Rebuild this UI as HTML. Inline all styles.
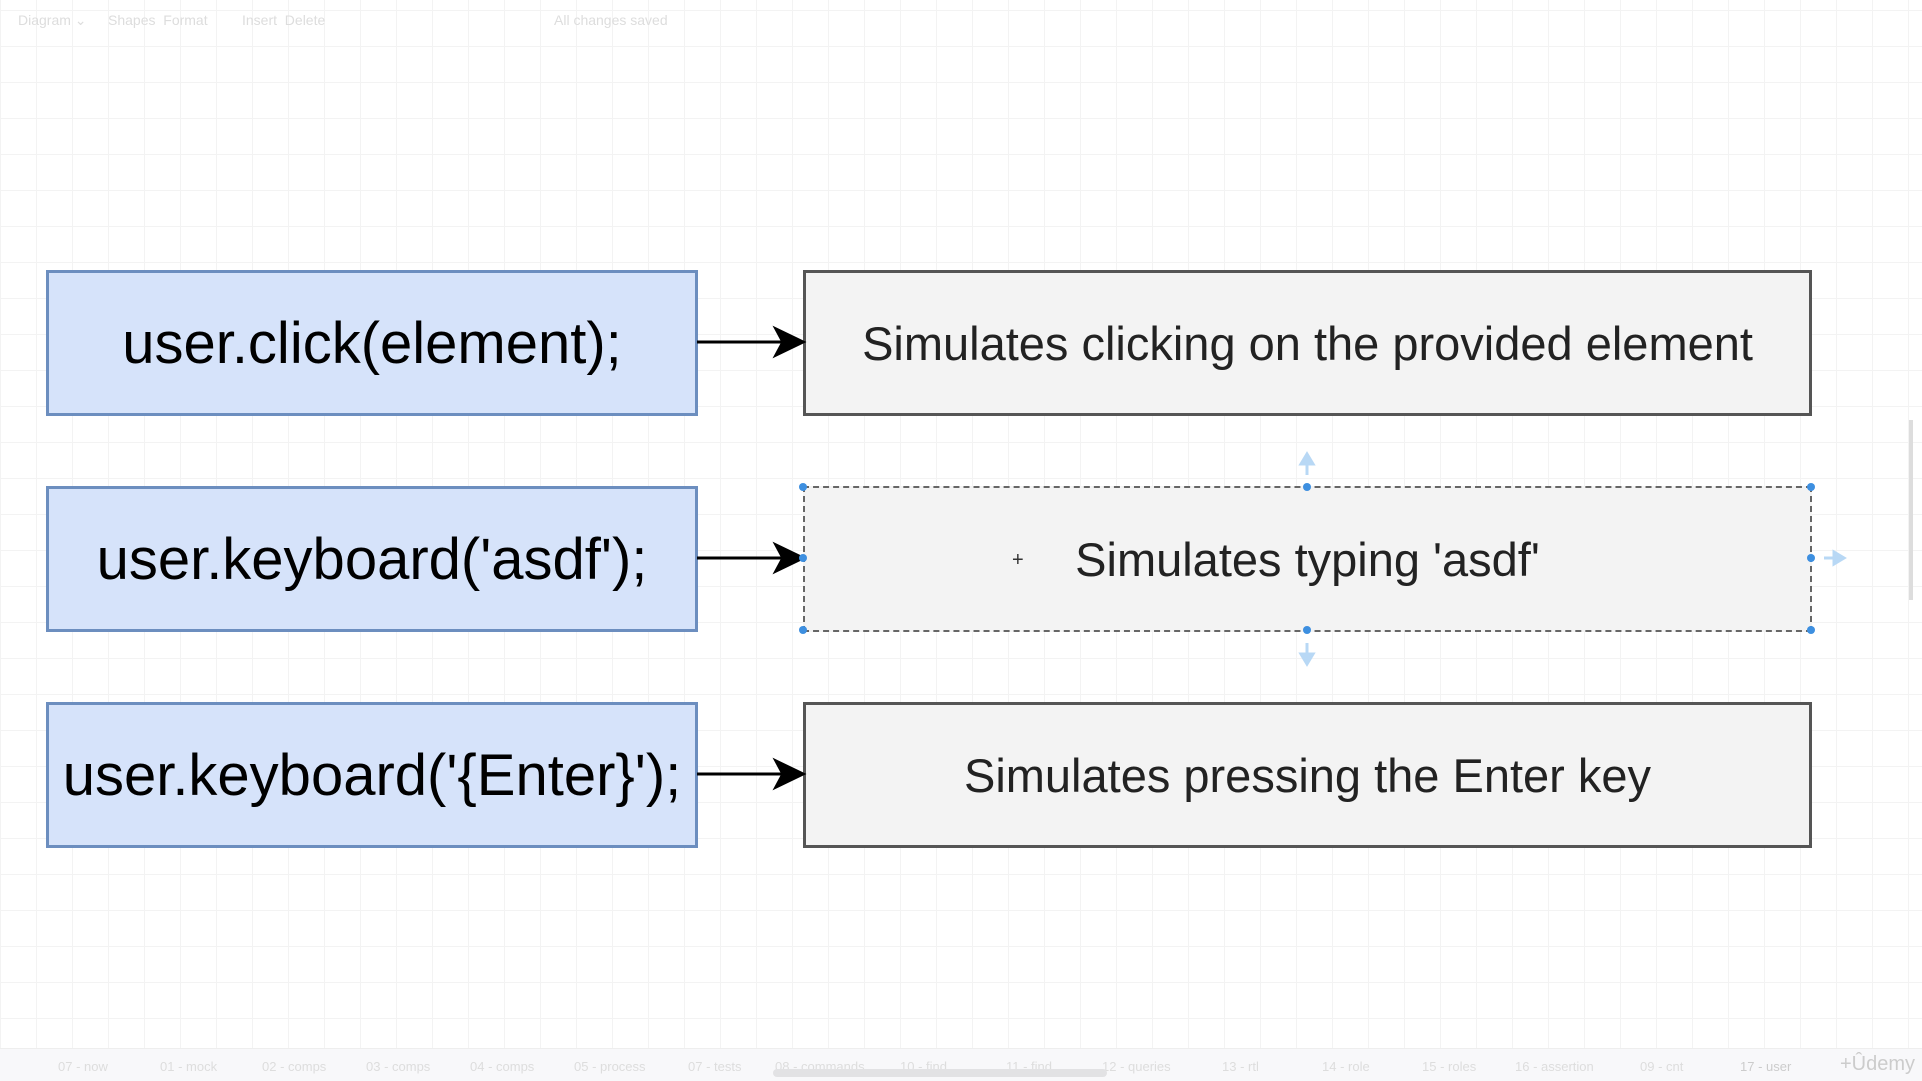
<!DOCTYPE html>
<html><head><style>
html,body{margin:0;padding:0;}
body{width:1922px;height:1080px;position:relative;overflow:hidden;background:#fff;font-family:"Liberation Sans",Arial,sans-serif;
background-image:linear-gradient(#f3f3f3 1px,transparent 1px),linear-gradient(90deg,#f3f3f3 1px,transparent 1px);background-size:36px 36px;background-position:0 10px;}
.l{position:absolute;left:46px;width:646px;height:140px;background:#d6e3fa;border:3px solid #6c8ebf;display:flex;align-items:center;justify-content:center;font-size:58px;color:#000;white-space:nowrap;}
.r{position:absolute;left:803px;width:1003px;height:140px;background:#f3f3f3;border:3px solid #555;display:flex;align-items:center;justify-content:center;font-size:47px;color:#222;white-space:nowrap;}
.tb{position:absolute;top:12px;font-size:14px;color:#ddd;}
.tabs{position:absolute;left:0;top:1048px;width:1922px;height:32px;background:#f8f8fa;border-top:1px solid #eee;}
.tab{position:absolute;top:10px;font-size:13px;color:#ddd;}
</style></head><body>
<div class="tb" style="left:18px">Diagram ⌄</div>
<div class="tb" style="left:108px">Shapes&nbsp; Format</div>
<div class="tb" style="left:242px">Insert&nbsp; Delete</div>
<div class="tb" style="left:554px">All changes saved</div>

<div class="l" style="top:270px">user.click(element);</div>
<div class="l" style="top:486px">user.keyboard('asdf');</div>
<div class="l" style="top:702px">user.keyboard('{Enter}');</div>

<div class="r" style="top:270px">Simulates clicking on the provided element</div>
<div class="r" style="top:486px;border:2px dashed #666;width:1005px;height:142px">Simulates typing 'asdf'</div>
<div class="r" style="top:702px">Simulates pressing the Enter key</div>

<svg width="1922" height="1080" style="position:absolute;left:0;top:0">
<g stroke="#000" stroke-width="3" fill="#000">
<line x1="697" y1="342" x2="785" y2="342"/><polygon points="803,342 776,329 783,342 776,355"/>
<line x1="697" y1="558" x2="785" y2="558"/><polygon points="803,558 776,545 783,558 776,571"/>
<line x1="697" y1="774" x2="785" y2="774"/><polygon points="803,774 776,761 783,774 776,787"/>
</g>
<g fill="#3d8fe0">
<circle cx="803" cy="487" r="4"/><circle cx="1307" cy="487" r="4"/><circle cx="1811" cy="487" r="4"/>
<circle cx="803" cy="558" r="4"/><circle cx="1811" cy="558" r="4"/>
<circle cx="803" cy="630" r="4"/><circle cx="1307" cy="630" r="4"/><circle cx="1811" cy="630" r="4"/>
</g>
<g stroke="#b8d8f5" stroke-width="3" fill="#b8d8f5">
<line x1="1307" y1="475" x2="1307" y2="462"/><polygon points="1301,464 1307,454 1313,464"/>
<line x1="1307" y1="643" x2="1307" y2="656"/><polygon points="1301,654 1307,664 1313,654"/>
<line x1="1824" y1="558" x2="1836" y2="558"/><polygon points="1834,552 1844,558 1834,564"/>
</g>
<text x="1012" y="566" font-size="20" fill="#333" font-family="Liberation Sans">+</text>
<rect x="1909" y="420" width="4" height="180" fill="#ddd"/>
</svg>

<div class="tabs">
<div class="tab" style="left:58px">07 - now</div><div class="tab" style="left:160px">01 - mock</div>
<div class="tab" style="left:262px">02 - comps</div><div class="tab" style="left:366px">03 - comps</div>
<div class="tab" style="left:470px">04 - comps</div><div class="tab" style="left:574px">05 - process</div>
<div class="tab" style="left:688px">07 - tests</div><div class="tab" style="left:775px">08 - commands</div>
<div class="tab" style="left:900px">10 - find</div><div class="tab" style="left:1006px">11 - find</div>
<div class="tab" style="left:1102px">12 - queries</div><div class="tab" style="left:1222px">13 - rtl</div>
<div class="tab" style="left:1322px">14 - role</div><div class="tab" style="left:1422px">15 - roles</div>
<div class="tab" style="left:1515px">16 - assertion</div><div class="tab" style="left:1640px">09 - cnt</div>
<div class="tab" style="left:1740px;color:#ccc">17 - user</div>
<div style="position:absolute;left:1840px;top:4px;font-size:20px;color:#ccc">+Ûdemy</div>
<div style="position:absolute;left:773px;top:20px;width:334px;height:8px;border-radius:4px;background:#e2e2e4"></div>
</div>
</body></html>
